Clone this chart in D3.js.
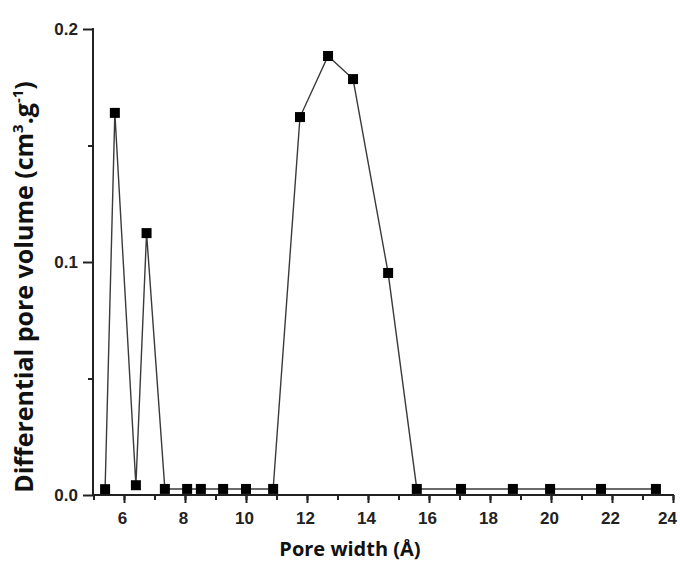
<!DOCTYPE html>
<html>
<head>
<meta charset="utf-8">
<style>
  body { margin: 0; background: #fff; }
  .title { font-family: "Open Sans", sans-serif; font-weight: bold; fill: #111; }
</style>
<script src="https://d3js.org/d3.v7.min.js"></script>
</head>
<body>
<svg id="chart" width="680" height="563"></svg>
<script>
// pore width (Å) and differential pore volume (cm3/g)
var poreWidth = [5.38, 5.70, 6.39, 6.74, 7.34, 8.07, 8.52, 9.25, 10.0, 10.89,
                 11.77, 12.69, 13.51, 14.66, 15.6, 17.05, 18.75, 19.97, 21.64, 23.44];
var poreVolume = [0.0025, 0.164, 0.0042, 0.1124, 0.0026, 0.0026, 0.0026, 0.0026, 0.0026, 0.0026,
                  0.1622, 0.1884, 0.1785, 0.0953, 0.0026, 0.0026, 0.0026, 0.0026, 0.0026, 0.0026];
var xTicks = [6, 8, 10, 12, 14, 16, 18, 20, 22, 24];
var yTicks = [0.0, 0.1, 0.2];

var svg = d3.select("#chart");

var x = d3.scaleLinear().domain([5, 24]).range([93.5, 673]);
var y = d3.scaleLinear().domain([0, 0.2]).range([495, 29]);

function styleTicks(g) {
  g.selectAll("text")
    .attr("font-family", "'Liberation Sans', Arial, sans-serif")
    .attr("font-weight", "bold")
    .attr("font-size", 17)
    .attr("fill", "#222");
}

// x axis: major + minor ticks
var xAxis = svg.append("g").attr("transform", "translate(0,495)");
xAxis.call(d3.axisBottom(x).tickValues(d3.range(5, 24.01, 1)).tickSize(5).tickFormat(""))
  .call(g => g.select(".domain").remove());
xAxis.append("g").call(d3.axisBottom(x).tickValues(xTicks).tickSize(8).tickPadding(9).tickFormat(d3.format("d")))
  .call(g => g.select(".domain").remove())
  .call(styleTicks)
  .call(g => g.selectAll("text").attr("dx", d => d === 24 ? -6 : -2));
xAxis.selectAll("line").attr("stroke", "#222").attr("stroke-width", 2);
xAxis.append("line").attr("x1", x(5) - 1).attr("x2", x(24) + 1)
  .attr("stroke", "#222").attr("stroke-width", 2);

// y axis
var yAxis = svg.append("g").attr("transform", "translate(93,0)");
yAxis.call(d3.axisLeft(y).tickValues([0.05, 0.15]).tickSize(5).tickFormat(""))
  .call(g => g.select(".domain").remove());
yAxis.append("g").call(d3.axisLeft(y).tickValues(yTicks).tickSize(10).tickPadding(5).tickFormat(d3.format(".1f")))
  .call(g => g.select(".domain").remove())
  .call(styleTicks);
yAxis.selectAll("line").attr("stroke", "#222").attr("stroke-width", 2);
yAxis.append("line").attr("y1", y(0.2) - 1).attr("y2", y(0) + 1)
  .attr("stroke", "#222").attr("stroke-width", 2);

// series line
var pts = poreWidth.map((d, i) => [d, poreVolume[i]]);
svg.append("path")
  .datum(pts)
  .attr("fill", "none")
  .attr("stroke", "#3a3a3a")
  .attr("stroke-width", 1.4)
  .attr("d", d3.line().x(d => x(d[0])).y(d => y(d[1])));

svg.selectAll("rect.pt")
  .data(pts)
  .enter().append("rect")
  .attr("class", "pt")
  .attr("x", d => x(d[0]) - 5)
  .attr("y", d => y(d[1]) - 5)
  .attr("width", 10)
  .attr("height", 10)
  .attr("fill", "#000");

// titles
svg.append("text").attr("class", "title")
  .attr("x", 350).attr("y", 556)
  .attr("text-anchor", "middle")
  .attr("font-size", 20)
  .text("Pore width (Å)");

var yt = svg.append("text").attr("class", "title")
  .attr("transform", "translate(33,287) rotate(-90)")
  .attr("text-anchor", "middle")
  .attr("font-size", 25);
yt.append("tspan").text("Differential pore volume (cm");
yt.append("tspan").attr("font-size", 15).attr("dy", -10).text("3");
yt.append("tspan").attr("dy", 10).text(".g");
yt.append("tspan").attr("font-size", 15).attr("dy", -10).text("-1");
yt.append("tspan").attr("dy", 10).text(")");
</script>
</body>
</html>
